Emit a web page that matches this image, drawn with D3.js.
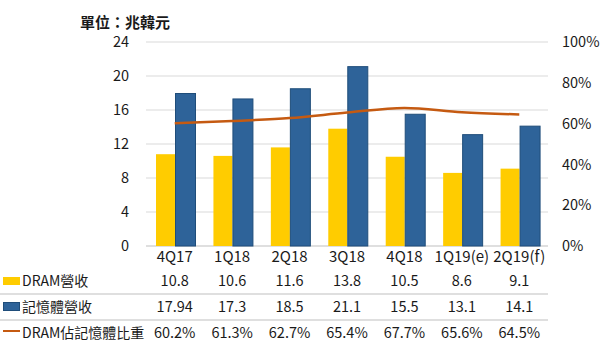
<!DOCTYPE html>
<html>
<head>
<meta charset="utf-8">
<script src="https://cdn.jsdelivr.net/npm/d3@7"></script>
<style>
  body { margin: 0; background: #fff; }
  svg text { font-family: "Noto Sans CJK TC", "Noto Sans", sans-serif; fill: #1a1a1a; }
</style>
</head>
<body>
<div id="graphicContainer"></div>
<script>
var categories = ["4Q17", "1Q18", "2Q18", "3Q18", "4Q18", "1Q19(e)", "2Q19(f)"]
var dramRevenue = [10.8, 10.6, 11.6, 13.8, 10.5, 8.6, 9.1]
var memoryRevenue = [17.94, 17.3, 18.5, 21.1, 15.5, 13.1, 14.1]
var dramShare = [60.2, 61.3, 62.7, 65.4, 67.7, 65.6, 64.5]
var leftTicks = [0, 4, 8, 12, 16, 20, 24]
var rightTicks = [0, 20, 40, 60, 80, 100]
var seriesNames = ["DRAM營收", "記憶體營收", "DRAM佔記憶體比重"]

var width = 601
var height = 351
var colours = { dram: "#ffcc00", mem: "#2e6399", memStroke: "#1f4d7a", line: "#c55a11" }

var svg = d3.select("#graphicContainer").append("svg")
  .attr("width", width)
  .attr("height", height)

var x = d3.scaleBand().domain(categories).range([146, 548])
var x1 = d3.scaleBand().domain(["dram", "mem"]).range([10, 48])
var y = d3.scaleLinear().domain([0, 24]).range([246, 42])
var y2 = d3.scaleLinear().domain([0, 100]).range([246, 42])

// title
svg.append("text")
  .attr("x", 80)
  .attr("y", 28)
  .style("font-size", "15px")
  .style("font-weight", "bold")
  .text("單位：兆韓元")

// gridlines
svg.selectAll(".grid")
  .data(leftTicks)
  .enter().append("line")
  .attr("x1", 146)
  .attr("x2", 548)
  .attr("y1", d => y(d))
  .attr("y2", d => y(d))
  .attr("stroke", d => d == 0 ? "#bfbfbf" : "#d9d9d9")
  .attr("stroke-width", 1)

var yAxis = svg.append("g")
  .attr("transform", "translate(129,0)")
  .call(d3.axisLeft(y).tickValues(leftTicks).tickSize(0).tickPadding(0))
yAxis.select(".domain").remove()
yAxis.selectAll("text").style("font-size", "14.5px").attr("fill", "#1a1a1a")

var yAxisRight = svg.append("g")
  .attr("transform", "translate(562,0)")
  .call(d3.axisRight(y2).tickValues(rightTicks).tickSize(0).tickPadding(0).tickFormat(d => d + "%"))
yAxisRight.select(".domain").remove()
yAxisRight.selectAll("text").style("font-size", "14.5px").attr("fill", "#1a1a1a")

// bars
var groups = svg.selectAll(".group")
  .data(categories)
  .enter().append("g")
  .attr("transform", d => "translate(" + x(d) + ",0)")

groups.append("rect")
  .attr("x", x1("dram"))
  .attr("width", x1.bandwidth())
  .attr("y", (d, i) => y(dramRevenue[i]))
  .attr("height", (d, i) => y(0) - y(dramRevenue[i]))
  .attr("fill", colours.dram)

groups.append("rect")
  .attr("x", x1("mem") + 0.5)
  .attr("width", x1.bandwidth() + 1)
  .attr("y", (d, i) => y(memoryRevenue[i]))
  .attr("height", (d, i) => y(0) - y(memoryRevenue[i]))
  .attr("fill", colours.mem)
  .attr("stroke", colours.memStroke)
  .attr("stroke-width", 1)

// share line
var line = d3.line()
  .x((d, i) => x(categories[i]) + x.bandwidth() / 2)
  .y(d => y2(d))
  .curve(d3.curveMonotoneX)

svg.append("path")
  .datum(dramShare)
  .attr("d", line)
  .attr("fill", "none")
  .attr("stroke", colours.line)
  .attr("stroke-width", 2.5)

// category labels
svg.selectAll(".cat")
  .data(categories)
  .enter().append("text")
  .attr("x", d => x(d) + x.bandwidth() / 2)
  .attr("y", 262)
  .attr("text-anchor", "middle")
  .style("font-size", "15px")
  .text(d => d)

// data table
var rows = [
  { values: dramRevenue.map(d => d.toFixed(1)), y: 281 },
  { values: memoryRevenue.map(d => String(d)), y: 307 },
  { values: dramShare.map(d => d.toFixed(1) + "%"), y: 333 }
]

;[294, 320].forEach(function (ly) {
  svg.append("line")
    .attr("x1", 0).attr("x2", 548)
    .attr("y1", ly).attr("y2", ly)
    .attr("stroke", "#bfbfbf")
    .attr("stroke-width", 1)
})

rows.forEach(function (row, r) {
  svg.selectAll(".row" + r)
    .data(row.values)
    .enter().append("text")
    .attr("x", (d, i) => x(categories[i]) + x.bandwidth() / 2)
    .attr("y", row.y + 5)
    .attr("text-anchor", "middle")
    .style("font-size", "14.5px")
    .text(d => d)

  svg.append("text")
    .attr("x", 22)
    .attr("y", row.y + 5)
    .style("font-size", "14px")
    .text(seriesNames[r])
})

// legend keys
svg.append("rect").attr("x", 3).attr("y", 277).attr("width", 17).attr("height", 8).attr("fill", colours.dram)
svg.append("rect").attr("x", 3.5).attr("y", 302.5).attr("width", 16).attr("height", 8)
  .attr("fill", colours.mem).attr("stroke", colours.memStroke)
svg.append("line").attr("x1", 3).attr("x2", 20).attr("y1", 331).attr("y2", 331)
  .attr("stroke", colours.line).attr("stroke-width", 2)
</script>
</body>
</html>
